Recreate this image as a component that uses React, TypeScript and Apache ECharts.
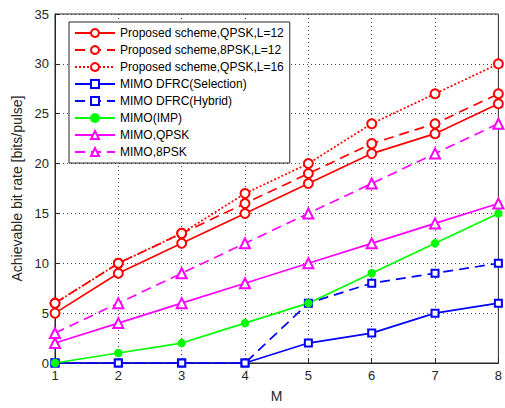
import React, { useEffect, useRef } from "react";
import * as echarts from "echarts";

const M = [1, 2, 3, 4, 5, 6, 7, 8];
const propQpsk12 = [5, 9, 12, 15, 18, 21, 23, 26];
const prop8psk12 = [6, 10, 13, 16, 19, 22, 24, 27];
const propQpsk16 = [6, 10, 13, 17, 20, 24, 27, 30];
const dfrcSelection = [0, 0, 0, 0, 2, 3, 5, 6];
const dfrcHybrid = [0, 0, 0, 0, 6, 8, 9, 10];
const mimoImp = [0, 1, 2, 4, 6, 9, 12, 15];
const mimoQpsk = [2, 4, 6, 8, 10, 12, 14, 16];
const mimo8psk = [3, 6, 9, 12, 15, 18, 21, 24];

const RED = "#ff0000";
const BLUE = "#0000ff";
const GREEN = "#00ff00";
const MAG = "#ff00ff";

function mk(name: string, vals: number[], color: string, type: any, symbol: string, size: number) {
  return {
    name,
    type: "line",
    data: M.map((m, i) => [m, vals[i]]),
    symbol,
    symbolSize: size,
    color,
    itemStyle: { color, borderColor: color, borderWidth: 1.5 },
    lineStyle: { color, width: 1.7, type },
    z: 3,
  };
}

export default function App() {
  const ref = useRef<HTMLDivElement>(null);
  useEffect(() => {
    const chart = echarts.init(ref.current!, null, { renderer: "svg" });
    const font = "Liberation Sans, Arial, sans-serif";
    chart.setOption({
      animation: false,
      backgroundColor: "#fff",
      textStyle: { fontFamily: font },
      grid: { left: 55, right: 3, top: 14, bottom: 42, show: true, borderColor: "#262626", borderWidth: 1 },
      legend: {
        orient: "vertical",
        left: 69,
        top: 22,
        backgroundColor: "#fff",
        borderColor: "#262626",
        borderWidth: 1,
        borderRadius: 0,
        padding: [5, 6, 5, 5],
        itemGap: 5,
        itemWidth: 40,
        itemHeight: 10,
        textStyle: { fontSize: 12, color: "#000", fontFamily: font },
        data: [
          "Proposed scheme,QPSK,L=12",
          "Proposed scheme,8PSK,L=12",
          "Proposed scheme,QPSK,L=16",
          "MIMO DFRC(Selection)",
          "MIMO DFRC(Hybrid)",
          "MIMO(IMP)",
          "MIMO,QPSK",
          "MIMO,8PSK",
        ],
      },
      xAxis: {
        type: "value",
        min: 1,
        max: 8,
        interval: 1,
        name: "M",
        nameLocation: "middle",
        nameGap: 26,
        nameTextStyle: { fontSize: 14, color: "#262626" },
        axisLine: { lineStyle: { color: "#262626" } },
        axisTick: { inside: true, length: 5, lineStyle: { color: "#262626" } },
        axisLabel: { fontSize: 13, color: "#262626", margin: 6 },
        splitLine: { show: true, lineStyle: { type: [1, 3], color: "#444" } },
      },
      yAxis: {
        type: "value",
        min: 0,
        max: 35,
        interval: 5,
        name: "Achievable bit rate [bits/pulse]",
        nameLocation: "middle",
        nameGap: 28,
        nameTextStyle: { fontSize: 14, color: "#262626" },
        axisLine: { show: true, lineStyle: { color: "#262626" } },
        axisTick: { show: true, inside: true, length: 5, lineStyle: { color: "#262626" } },
        axisLabel: { fontSize: 13, color: "#262626", margin: 6 },
        splitLine: { show: true, lineStyle: { type: [1, 3], color: "#444" } },
      },
      series: [
        mk("Proposed scheme,QPSK,L=12", propQpsk12, RED, "solid", "emptyCircle", 9),
        mk("Proposed scheme,8PSK,L=12", prop8psk12, RED, [10, 6], "emptyCircle", 9),
        mk("Proposed scheme,QPSK,L=16", propQpsk16, RED, [2, 2], "emptyCircle", 9),
        mk("MIMO DFRC(Selection)", dfrcSelection, BLUE, "solid", "emptyRect", 7),
        mk("MIMO DFRC(Hybrid)", dfrcHybrid, BLUE, [10, 6], "emptyRect", 7),
        mk("MIMO(IMP)", mimoImp, GREEN, "solid", "circle", 7),
        mk("MIMO,QPSK", mimoQpsk, MAG, "solid", "emptyTriangle", 10),
        mk("MIMO,8PSK", mimo8psk, MAG, [10, 6], "emptyTriangle", 10),
      ],
    });
    return () => chart.dispose();
  }, []);
  return <div ref={ref} style={{ width: 505, height: 408, position: "absolute", left: 0, top: 0 }} />;
}
